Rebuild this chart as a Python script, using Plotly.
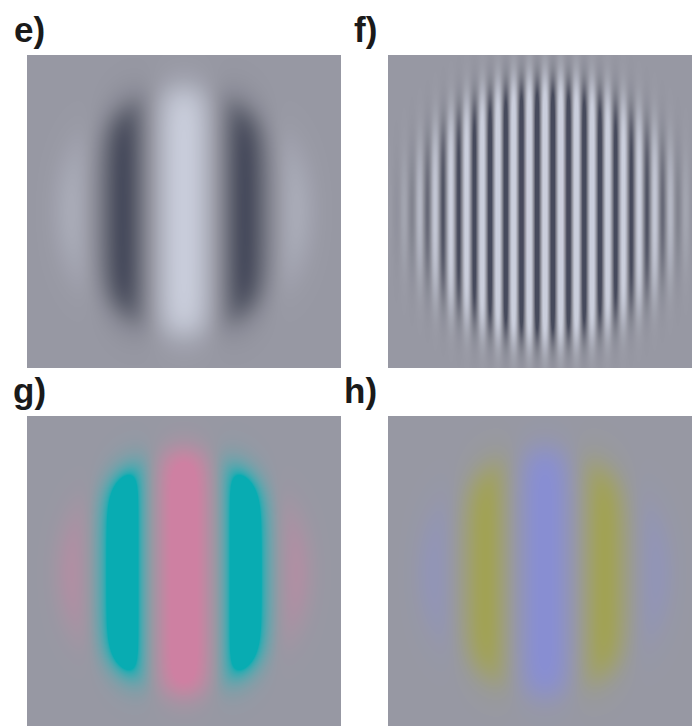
import numpy as np
import plotly.graph_objects as go

FIG_W, FIG_H = 692, 726

# ---- panel content (Gabor patch parameters) ----
panel_labels = ["e)", "f)", "g)", "h)"]
carrier_period = [127.0, 15.7, 127.0, 124.0]     # px per cycle
gain_pos = [1.0, 1.3, 1.25, 1.05]                # contrast toward pos colour
gain_neg = [1.15, 1.3, 1.7, 1.15]                # contrast toward neg colour
gauss_sigma_x = [105.0, 140.0, 105.0, 105.0]     # horizontal falloff
aperture_radius = [121.0, 130.0, 120.0, 121.0]   # round aperture
aperture_soft = [9.0, 10.0, 8.0, 9.0]
bg_rgb = [(151, 152, 163)] * 4
neg_rgb = [(66, 70, 88), (70, 74, 92), (8, 172, 178), (162, 162, 80)]
pos_rgb = [(200, 204, 218), (202, 206, 220), (206, 128, 162), (136, 142, 210)]

# ---- layout (pixels) ----
panel_left = [27, 388, 27, 388]
panel_top = [55, 55, 416, 416]
PANEL_W, PANEL_H = 314, 313
label_xy = [(12, 30), (352, 30), (11, 391), (342, 391)]


def to_lin(c):
    c = np.asarray(c, float) / 255.0
    return np.where(c <= 0.04045, c / 12.92, ((c + 0.055) / 1.055) ** 2.4)


def to_srgb(l):
    l = np.clip(l, 0, 1)
    return 255.0 * np.where(l <= 0.0031308, 12.92 * l, 1.055 * l ** (1 / 2.4) - 0.055)


def light_mix_scale(neg, bg, pos, n=20):
    scale = []
    lb, ln_, lp = to_lin(bg), to_lin(neg), to_lin(pos)
    for k in range(-n, n + 1):
        t = k / n
        end = lp if t > 0 else ln_
        c = to_srgb(lb + abs(t) * (end - lb))
        scale.append([(t + 1) / 2, "rgb(%d,%d,%d)" % tuple(np.round(c).astype(int))])
    return scale


fig = go.Figure()

for i in range(4):
    xs = np.arange(PANEL_W) - (PANEL_W - 1) / 2.0
    ys = np.arange(PANEL_H) - (PANEL_H - 1) / 2.0
    X, Y = np.meshgrid(xs, ys)
    R = np.sqrt(X ** 2 + Y ** 2)
    env = np.exp(-X ** 2 / (2 * gauss_sigma_x[i] ** 2))
    env = env / (1.0 + np.exp((R - aperture_radius[i]) / aperture_soft[i]))
    g = env * np.cos(2 * np.pi * X / carrier_period[i])
    z = np.where(g > 0, gain_pos[i] * g, gain_neg[i] * g)
    z = np.round(np.clip(z, -1, 1), 3)

    ax = "" if i == 0 else str(i + 1)
    fig.add_trace(go.Heatmap(
        z=z,
        x=np.arange(PANEL_W), y=np.arange(PANEL_H),
        zmin=-1, zmax=1,
        colorscale=light_mix_scale(neg_rgb[i], bg_rgb[i], pos_rgb[i]),
        showscale=False, hoverinfo="skip",
        xaxis="x" + ax, yaxis="y" + ax,
    ))

    vis_w = min(PANEL_W, FIG_W - panel_left[i])
    vis_h = min(PANEL_H, FIG_H - panel_top[i])
    x0 = panel_left[i] / FIG_W
    x1 = (panel_left[i] + vis_w) / FIG_W
    y1 = 1 - panel_top[i] / FIG_H
    y0 = 1 - (panel_top[i] + vis_h) / FIG_H
    fig.update_layout(**{
        "xaxis" + ax: dict(domain=[x0, x1], range=[-0.5, vis_w - 0.5],
                           visible=False, showgrid=False, zeroline=False,
                           anchor="y" + ax, fixedrange=True),
        "yaxis" + ax: dict(domain=[max(y0, 0), y1], range=[vis_h - 0.5, -0.5],
                           visible=False, showgrid=False, zeroline=False,
                           anchor="x" + ax, fixedrange=True),
    })
    fig.add_annotation(
        x=label_xy[i][0] / FIG_W, y=1 - label_xy[i][1] / FIG_H,
        xref="paper", yref="paper", xanchor="left", yanchor="middle",
        text="<b>%s</b>" % panel_labels[i], showarrow=False,
        font=dict(family="Liberation Sans, Arial, sans-serif", size=35, color="#1a1a1a"),
    )

fig.update_layout(
    width=FIG_W, height=FIG_H,
    margin=dict(l=0, r=0, t=0, b=0),
    paper_bgcolor="white", plot_bgcolor="white",
    showlegend=False,
)

fig.write_html(
    "out.html",
    config={"displayModeBar": False},
    post_script="document.body.style.margin='0px';document.body.style.overflow='hidden';",
)
